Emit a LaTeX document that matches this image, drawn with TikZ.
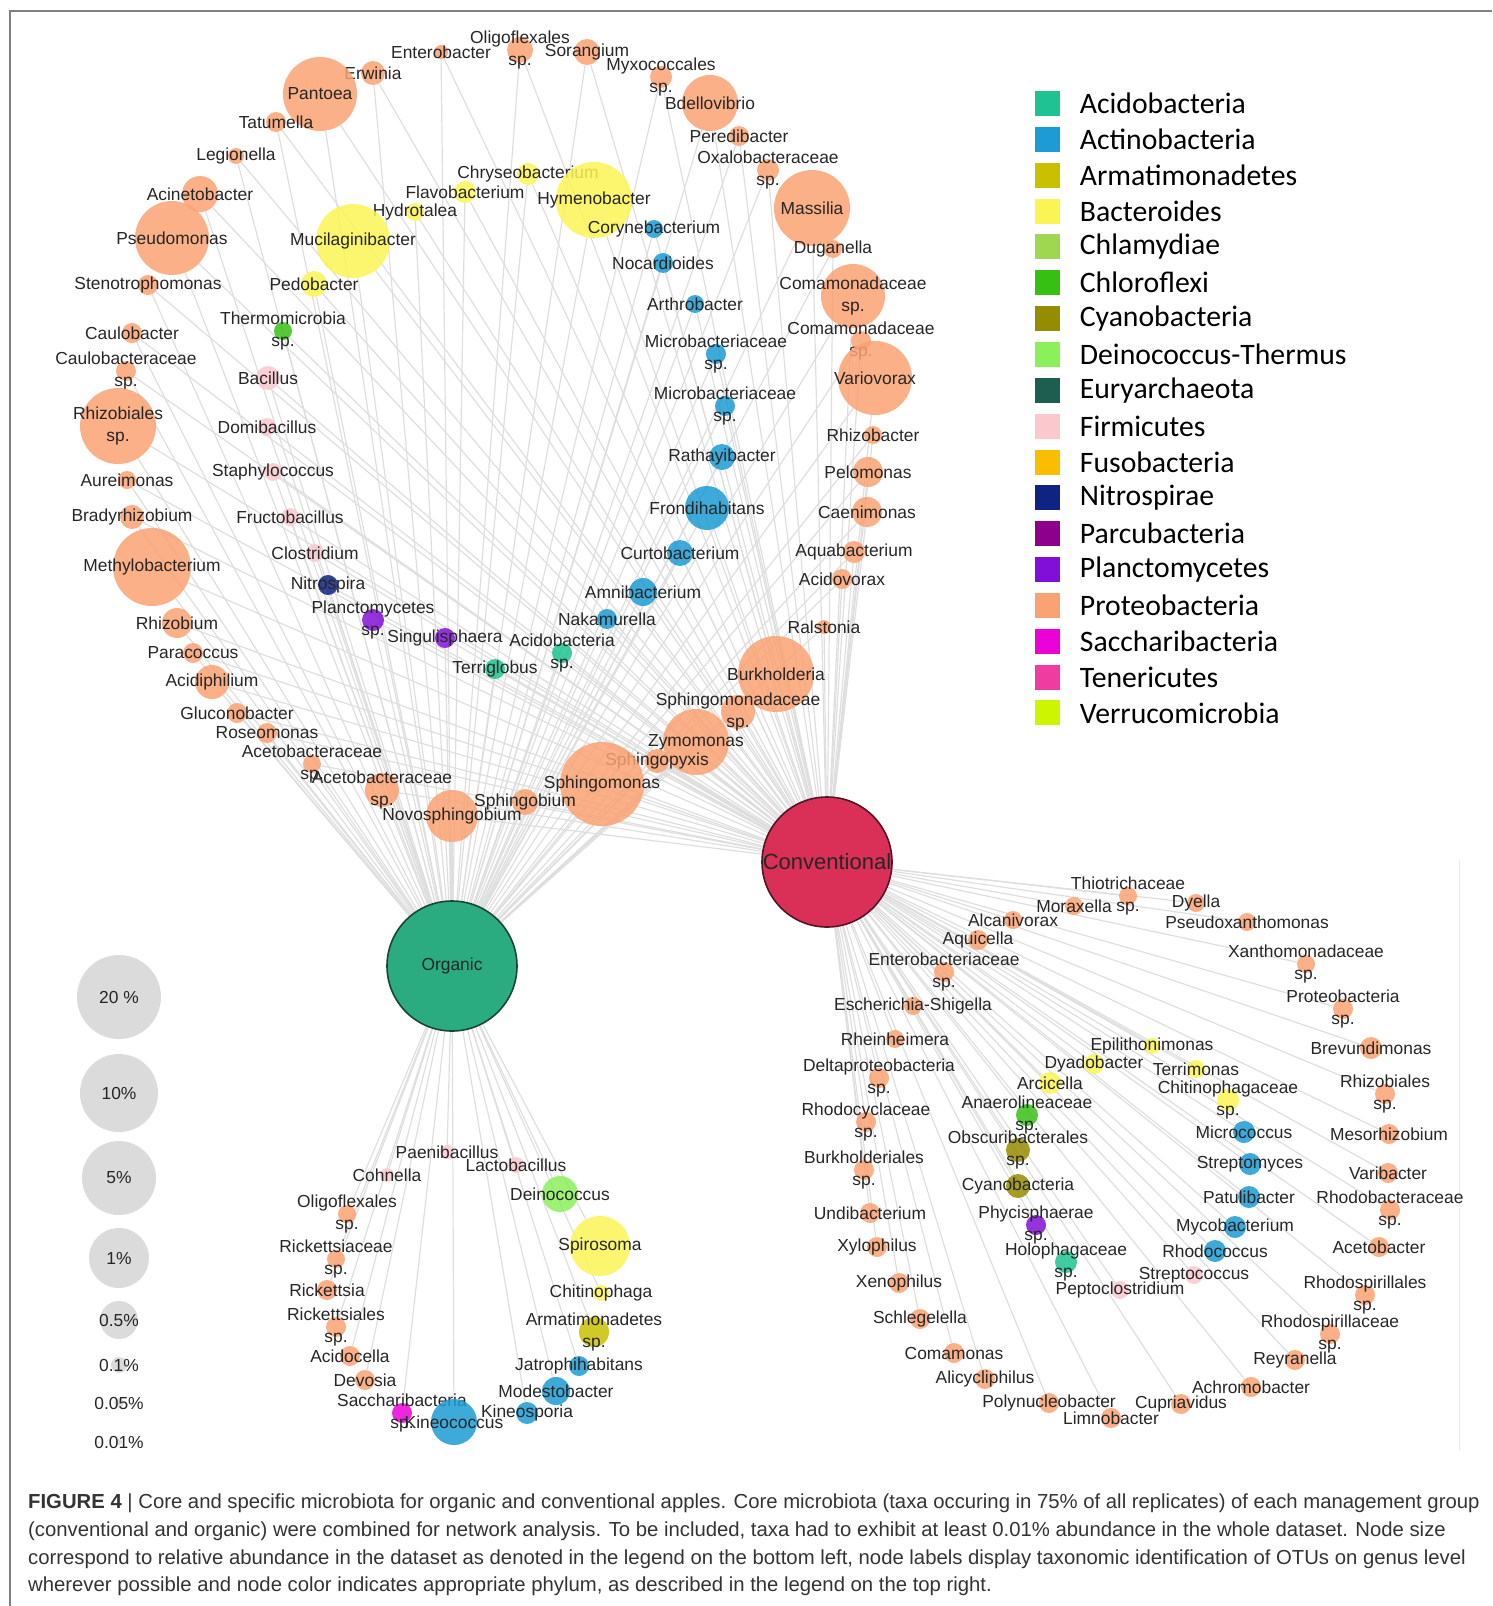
\documentclass[tikz,border=0pt]{standalone}
\usepackage{fontspec}
\setmainfont{Liberation Sans}
\newfontfamily\legfont{Carlito}
\usepackage{tikz}
\usetikzlibrary{positioning}
\definecolor{Acido}{RGB}{30,195,145}
\definecolor{Actino}{RGB}{28,155,212}
\definecolor{Armat}{RGB}{200,192,0}
\definecolor{Bacter}{RGB}{250,245,85}
\definecolor{Chlamy}{RGB}{160,215,80}
\definecolor{Chloro}{RGB}{55,192,20}
\definecolor{Cyano}{RGB}{150,140,0}
\definecolor{Deino}{RGB}{140,240,90}
\definecolor{Eury}{RGB}{28,95,80}
\definecolor{Firmi}{RGB}{250,200,205}
\definecolor{Fuso}{RGB}{250,190,0}
\definecolor{Nitro}{RGB}{15,35,130}
\definecolor{Parcu}{RGB}{140,0,140}
\definecolor{Plancto}{RGB}{130,15,215}
\definecolor{Proteo}{RGB}{250,162,115}
\definecolor{Sacch}{RGB}{235,0,215}
\definecolor{Teneri}{RGB}{240,60,160}
\definecolor{Verruco}{RGB}{205,245,0}
\definecolor{OrgGreen}{RGB}{42,172,128}
\definecolor{OrgEdge}{RGB}{25,70,50}
\definecolor{ConvRed}{RGB}{218,48,88}
\definecolor{ConvEdge}{RGB}{85,20,35}
\pgfdeclarelayer{background}
\pgfsetlayers{background,main}
\newcommand{\lblfont}{\fontsize{17.4}{21.5}\selectfont}

\begin{document}
\begin{tikzpicture}[
		x=1pt, y=-1pt,
		otu/.style={circle, inner sep=0pt, draw=none, fill opacity=0.85},
		every label/.style={font=\lblfont, text=black!85, align=center, inner sep=0pt, fill opacity=1, text opacity=1},
		prot/.style={otu, fill=Proteo, minimum size=2*#1},
		bact/.style={otu, fill=Bacter, minimum size=2*#1},
		actino/.style={otu, fill=Actino, minimum size=2*#1},
		acido/.style={otu, fill=Acido, minimum size=2*#1},
		chloro/.style={otu, fill=Chloro, minimum size=2*#1},
		firm/.style={otu, fill=Firmi, minimum size=2*#1},
		nitr/.style={otu, fill=Nitro, minimum size=2*#1},
		planc/.style={otu, fill=Plancto, minimum size=2*#1},
		armat/.style={otu, fill=Armat, minimum size=2*#1},
		deinoc/.style={otu, fill=Deino, minimum size=2*#1},
		cyano/.style={otu, fill=Cyano, minimum size=2*#1},
		sacch/.style={otu, fill=Sacch, minimum size=2*#1},
		hub/.style={circle, inner sep=0pt, minimum size=130, line width=1.6pt},
		link/.style={draw=black!13, line width=1.2pt},
		sizecirc/.style={circle, inner sep=0pt, fill=black!14, minimum size=2*#1},
		legsq/.style={rectangle, inner sep=0pt, minimum size=25},
		legtxt/.style={inner sep=0pt, font=\legfont\fontsize{29.7}{31}\selectfont},
		frame/.style={draw=black!50, line width=2.5pt},
		caption/.style={anchor=north west, align=left, inner sep=0pt, text=black!80, font=\fontsize{20.3}{27.6}\selectfont}
	]
	\useasboundingbox (0,0) rectangle (1492,1606);
	\draw[frame] (10,1606) -- (10,11) -- (1492,11);
	\draw[draw=black!8, line width=1pt] (1459,860) -- (1459,1450);

	% hubs
	\node[hub, fill=OrgGreen, draw=OrgEdge, label=center:Organic] (org) at (452,966) {};
	\node[hub, fill=ConvRed, draw=ConvEdge, label={[font=\fontsize{22}{24}\selectfont, text=black!85]center:Conventional}] (conv) at (827,862) {};

	% core taxa
	\node[prot=13, label={center:Oligoflexales\\sp.}] (oligo) at (520,50) {};
	\node[prot=7, label=center:Enterobacter] (entero) at (441,52) {};
	\node[prot=13, label=center:Sorangium] (soran) at (587,52) {};
	\node[prot=11, label={center:Myxococcales\\sp.}] (myxo) at (661,77) {};
	\node[prot=12, label=center:Erwinia] (erwinia) at (373,73) {};
	\node[prot=37, label=center:Pantoea] (pantoea) at (320,94) {};
	\node[prot=28, label=center:Bdellovibrio] (bdello) at (710,103) {};
	\node[prot=10, label=center:Tatumella] (tatum) at (276,122) {};
	\node[prot=10, label=center:Peredibacter] (pered) at (739,136) {};
	\node[prot=8, label=center:Legionella] (legio) at (236,156) {};
	\node[prot=11, label={center:Oxalobacteraceae\\sp.}] (oxalo) at (768,170) {};
	\node[bact=11, label=center:Chryseobacterium] (chryseo) at (528,174) {};
	\node[bact=11, label=center:Flavobacterium] (flavo) at (465,192) {};
	\node[bact=38, label=center:Hymenobacter] (hymeno) at (594,200) {};
	\node[prot=18, label=center:Acinetobacter] (acineto) at (200,194) {};
	\node[bact=9, label=center:Hydrotalea] (hydro) at (415,212) {};
	\node[prot=38, label=center:Massilia] (massi) at (812,208) {};
	\node[actino=9, label=center:Corynebacterium] (coryne) at (654,229) {};
	\node[prot=37, label=center:Pseudomonas] (pseudo) at (172,238) {};
	\node[bact=37, label=center:Mucilaginibacter] (muci) at (353,241) {};
	\node[prot=9, label=center:Duganella] (dugan) at (833,249) {};
	\node[actino=10, label=center:Nocardioides] (nocar) at (663,263) {};
	\node[prot=10, label=center:Stenotrophomonas] (steno) at (148,285) {};
	\node[bact=13, label=center:Pedobacter] (pedo) at (314,284) {};
	\node[prot=32, label={center:Comamonadaceae\\sp.}] (coma1) at (853,296) {};
	\node[actino=9, label=center:Arthrobacter] (arthro) at (695,304) {};
	\node[prot=10, label=center:Caulobacter] (caulo) at (132,333) {};
	\node[chloro=9, label={center:Thermomicrobia\\sp.}] (thermo) at (283,331) {};
	\node[prot=10, label={center:Comamonadaceae\\sp.}] (coma2) at (861,341) {};
	\node[prot=10, label={center:Caulobacteraceae\\sp.}] (caulosp) at (126,371) {};
	\node[actino=10, label={center:Microbacteriaceae\\sp.}] (micro1) at (716,354) {};
	\node[firm=12, label=center:Bacillus] (bacil) at (268,378) {};
	\node[prot=37, label=center:Variovorax] (vario) at (875,378) {};
	\node[prot=38, label={center:Rhizobiales\\sp.}] (rhizsp) at (118,426) {};
	\node[actino=10, label={center:Microbacteriaceae\\sp.}] (micro2) at (725,406) {};
	\node[firm=9, label=center:Domibacillus] (domi) at (267,427) {};
	\node[prot=9, label=center:Rhizobacter] (rhizobac) at (873,435) {};
	\node[prot=9, label=center:Aureimonas] (aurei) at (127,480) {};
	\node[firm=9, label=center:Staphylococcus] (staph) at (273,472) {};
	\node[actino=13, label=center:Rathayibacter] (ratha) at (722,457) {};
	\node[prot=15, label=center:Pelomonas] (pelo) at (868,472) {};
	\node[prot=12, label=center:Bradyrhizobium] (brady) at (132,517) {};
	\node[firm=9, label=center:Fructobacillus] (fructo) at (290,517) {};
	\node[actino=22, label=center:Frondihabitans] (frondi) at (707,508) {};
	\node[prot=15, label=center:Caenimonas] (caeni) at (867,512) {};
	\node[prot=39, label=center:Methylobacterium] (methylo) at (152,567) {};
	\node[firm=9, label=center:Clostridium] (clostr) at (315,553) {};
	\node[actino=13, label=center:Curtobacterium] (curto) at (680,553) {};
	\node[prot=11, label=center:Aquabacterium] (aquab) at (854,552) {};
	\node[nitr=10, label=center:Nitrospira] (nitro) at (328,585) {};
	\node[actino=14, label=center:Amnibacterium] (amni) at (643,592) {};
	\node[prot=10, label=center:Acidovorax] (acidov) at (842,579) {};
	\node[planc=11, label={center:Planctomycetes\\sp.}] (plancto) at (373,620) {};
	\node[prot=15, label=center:Rhizobium] (rhizob) at (177,623) {};
	\node[actino=10, label=center:Nakamurella] (naka) at (607,619) {};
	\node[prot=7, label=center:Ralstonia] (ralst) at (824,627) {};
	\node[prot=10, label=center:Paracoccus] (parac) at (193,653) {};
	\node[planc=10, label=center:Singulisphaera] (singu) at (445,638) {};
	\node[acido=10, label={center:Acidobacteria\\sp.}] (acidob) at (562,653) {};
	\node[acido=10, label=center:Terriglobus] (terri) at (495,669) {};
	\node[prot=17, label=center:Acidiphilium] (acidi) at (212,682) {};
	\node[prot=38, label=center:Burkholderia] (burk) at (776,674) {};
	\node[prot=17, label={center:Sphingomonadaceae\\sp.}] (sphingsp) at (738,712) {};
	\node[prot=10, label=center:Gluconobacter] (glucon) at (237,713) {};
	\node[prot=10, label=center:Roseomonas] (roseo) at (267,733) {};
	\node[prot=33, label=center:Zymomonas] (zymo) at (696,742) {};
	\node[prot=9, label={center:Acetobacteraceae\\sp.}] (aceto1) at (312,764) {};
	\node[prot=17, label={center:Acetobacteraceae\\sp.}] (aceto2) at (382,790) {};
	\node[prot=12, label=center:Sphingopyxis] (sphingop) at (657,761) {};
	\node[prot=42, label=center:Sphingomonas] (sphingom) at (602,784) {};
	\node[prot=13, label=center:Sphingobium] (sphingob) at (525,802) {};
	\node[prot=26, label=center:Novosphingobium] (novo) at (452,816) {};

	% organic only
	\node[firm=7, label=center:Paenibacillus] (paeni) at (447,1152) {};
	\node[firm=8, label=center:Lactobacillus] (lacto) at (516,1165) {};
	\node[firm=7, label=center:Cohnella] (cohn) at (387,1175) {};
	\node[deinoc=18, label=center:Deinococcus] (deino) at (560,1194) {};
	\node[prot=9, label={center:Oligoflexales\\sp.}] (oligo2) at (347,1214) {};
	\node[bact=30, label=center:Spirosoma] (spiro) at (600,1246) {};
	\node[prot=9, label={center:Rickettsiaceae\\sp.}] (ricksp) at (336,1259) {};
	\node[bact=8, label=center:Chitinophaga] (chitin) at (601,1293) {};
	\node[prot=10, label=center:Rickettsia] (rick) at (327,1290) {};
	\node[prot=10, label={center:Rickettsiales\\sp.}] (rickales) at (336,1327) {};
	\node[armat=15, label={center:Armatimonadetes\\sp.}] (armat) at (594,1332) {};
	\node[prot=10, label=center:Acidocella] (acidoc) at (350,1356) {};
	\node[actino=10, label=center:Jatrophihabitans] (jatro) at (579,1366) {};
	\node[prot=10, label=center:Devosia] (devo) at (365,1380) {};
	\node[actino=14, label=center:Modestobacter] (modest) at (556,1391) {};
	\node[sacch=10, label={center:Saccharibacteria\\sp.}] (sacch) at (402,1413) {};
	\node[actino=23, label=center:Kineococcus] (kineoc) at (454,1422) {};
	\node[actino=11, label=center:Kineosporia] (kineos) at (527,1413) {};

	% conventional only
	\node[prot=9, label={center:Thiotrichaceae\\sp.}] (thio) at (1128,896) {};
	\node[prot=9, label=center:Moraxella] (morax) at (1074,906) {};
	\node[prot=9, label=center:Dyella] (dyella) at (1196,903) {};
	\node[prot=9, label=center:Pseudoxanthomonas] (pseudox) at (1247,922) {};
	\node[prot=9, label=center:Alcanivorax] (alcani) at (1013,920) {};
	\node[prot=10, label=center:Aquicella] (aquic) at (978,940) {};
	\node[prot=10, label={center:Enterobacteriaceae\\sp.}] (enterosp) at (944,972) {};
	\node[prot=9, label={center:Xanthomonadaceae\\sp.}] (xantho) at (1306,964) {};
	\node[prot=9, label=center:Escherichia-Shigella] (esch) at (913,1006) {};
	\node[prot=10, label={center:Proteobacteria\\sp.}] (proteosp) at (1343,1009) {};
	\node[prot=9, label=center:Rheinheimera] (rhein) at (895,1039) {};
	\node[bact=8, label=center:Epilithonimonas] (epili) at (1152,1046) {};
	\node[prot=11, label=center:Brevundimonas] (brevun) at (1371,1048) {};
	\node[prot=10, label={center:Deltaproteobacteria\\sp.}] (delta) at (879,1078) {};
	\node[bact=10, label=center:Dyadobacter] (dyado) at (1094,1064) {};
	\node[bact=9, label=center:Terrimonas] (terrim) at (1196,1069) {};
	\node[bact=11, label=center:Arcicella] (arci) at (1050,1083) {};
	\node[bact=11, label={center:Chitinophagaceae\\sp.}] (chitsp) at (1228,1100) {};
	\node[prot=10, label={center:Rhizobiales\\sp.}] (rhizsp2) at (1385,1094) {};
	\node[chloro=11, label={center:Anaerolineaceae\\sp.}] (anaero) at (1027,1115) {};
	\node[prot=10, label={center:Rhodocyclaceae\\sp.}] (rhodocy) at (866,1122) {};
	\node[actino=11, label=center:Micrococcus] (microc) at (1244,1132) {};
	\node[prot=10, label=center:Mesorhizobium] (mesorh) at (1389,1134) {};
	\node[cyano=12, label={center:Obscuribacterales\\sp.}] (obscur) at (1018,1150) {};
	\node[prot=10, label={center:Burkholderiales\\sp.}] (burksp) at (864,1170) {};
	\node[actino=11, label=center:Streptomyces] (strepm) at (1250,1164) {};
	\node[prot=10, label=center:Varibacter] (varib) at (1388,1173) {};
	\node[cyano=12, label=center:Cyanobacteria] (cyanob) at (1018,1186) {};
	\node[actino=11, label=center:Patulibacter] (patul) at (1249,1197) {};
	\node[prot=10, label={center:Rhodobacteraceae\\sp.}] (rhodobsp) at (1390,1210) {};
	\node[prot=10, label=center:Undibacterium] (undib) at (870,1213) {};
	\node[planc=10, label={center:Phycisphaerae\\sp.}] (phycis) at (1036,1225) {};
	\node[actino=11, label=center:Mycobacterium] (mycob) at (1235,1227) {};
	\node[prot=10, label=center:Xylophilus] (xyloph) at (877,1247) {};
	\node[prot=10, label=center:Acetobacter] (acetob) at (1379,1247) {};
	\node[actino=11, label=center:Rhodococcus] (rhodoc) at (1215,1251) {};
	\node[acido=11, label={center:Holophagaceae\\sp.}] (holoph) at (1066,1262) {};
	\node[firm=9, label=center:Streptococcus] (streptoc) at (1194,1275) {};
	\node[firm=9, label=center:Peptoclostridium] (pepto) at (1120,1290) {};
	\node[prot=10, label=center:Xenophilus] (xenoph) at (899,1283) {};
	\node[prot=10, label={center:Rhodospirillales\\sp.}] (rhodospsp) at (1365,1295) {};
	\node[prot=10, label=center:Schlegelella] (schleg) at (920,1319) {};
	\node[prot=10, label={center:Rhodospirillaceae\\sp.}] (rhodosp2) at (1330,1334) {};
	\node[prot=10, label=center:Comamonas] (comam) at (954,1353) {};
	\node[prot=10, label=center:Reyranella] (reyra) at (1295,1360) {};
	\node[prot=10, label=center:Alicycliphilus] (alicy) at (985,1379) {};
	\node[prot=10, label=center:Achromobacter] (achro) at (1251,1387) {};
	\node[prot=10, label=center:Polynucleobacter] (polyn) at (1049,1403) {};
	\node[prot=10, label=center:Cupriavidus] (cupri) at (1181,1404) {};
	\node[prot=10, label=center:Limnobacter] (limno) at (1111,1418) {};

	% connections
	\begin{pgfonlayer}{background}
		\foreach \n in {oligo, entero, soran, myxo, erwinia, pantoea, bdello, tatum, pered, legio, oxalo, chryseo, flavo, hymeno, acineto, hydro, massi, coryne, pseudo, muci, dugan, nocar, steno, pedo, coma1, arthro, caulo, thermo, coma2, caulosp, micro1, bacil, vario, rhizsp, micro2, domi, rhizobac, aurei, staph, ratha, pelo, brady, fructo, frondi, caeni, methylo, clostr, curto, aquab, nitro, amni, acidov, plancto, rhizob, naka, ralst, parac, singu, acidob, terri, acidi, burk, sphingsp, glucon, roseo, zymo, aceto1, aceto2, sphingop, sphingom, sphingob, novo}
			{\draw[link] (org) -- (\n); \draw[link] (conv) -- (\n);}
		\foreach \n in {paeni, lacto, cohn, deino, oligo2, spiro, ricksp, chitin, rick, rickales, armat, acidoc, jatro, devo, modest, sacch, kineoc, kineos}
			{\draw[link] (org) -- (\n);}
		\foreach \n in {thio, morax, dyella, pseudox, alcani, aquic, enterosp, xantho, esch, proteosp, rhein, epili, brevun, delta, dyado, terrim, arci, chitsp, rhizsp2, anaero, rhodocy, microc, mesorh, obscur, burksp, strepm, varib, cyanob, patul, rhodobsp, undib, phycis, mycob, xyloph, acetob, rhodoc, holoph, streptoc, pepto, xenoph, rhodospsp, schleg, rhodosp2, comam, reyra, alicy, achro, polyn, cupri, limno}
			{\draw[link] (conv) -- (\n);}
	\end{pgfonlayer}

	% size legend
	\node[sizecirc=42, label=center:20 \%] (s20) at (119,997) {};
	\node[sizecirc=39, label=center:10\%] (s10) at (119,1093) {};
	\node[sizecirc=37, label=center:5\%] (s5) at (119,1178) {};
	\node[sizecirc=30, label=center:1\%] (s1) at (119,1258) {};
	\node[sizecirc=19, label=center:0.5\%] (s05) at (119,1320) {};
	\node[sizecirc=8, label=center:0.1\%] (s01) at (119,1365) {};
	\node[sizecirc=5, label=center:0.05\%] (s005) at (119,1403) {};
	\node[sizecirc=3, label=center:0.01\%] (s001) at (119,1442) {};

	% phylum legend
	\foreach \nm/\col [count=\i from 0] in {Acidobacteria/Acido, Actinobacteria/Actino, Armatimonadetes/Armat, Bacteroides/Bacter, Chlamydiae/Chlamy, Chloroflexi/Chloro, Cyanobacteria/Cyano, Deinococcus-Thermus/Deino, Euryarchaeota/Eury, Firmicutes/Firmi, Fusobacteria/Fuso, Nitrospirae/Nitro, Parcubacteria/Parcu, Planctomycetes/Plancto, Proteobacteria/Proteo, Saccharibacteria/Sacch, Tenericutes/Teneri, Verrucomicrobia/Verruco}
	{
		\node[legsq, fill=\col] (sq\i) at (1047,103.5+35.85*\i) {};
		\node[legtxt, right=20pt of sq\i] (lt\i) {\nm};
	}

	\node[caption] (cap) at (28,1494) {\textbf{FIGURE 4} | Core and specific microbiota for organic and conventional apples. Core microbiota (taxa occuring in 75\% of all replicates) of each management group\\
		(conventional and organic) were combined for network analysis. To be included, taxa had to exhibit at least 0.01\% abundance in the whole dataset. Node size\\
		correspond to relative abundance in the dataset as denoted in the legend on the bottom left, node labels display taxonomic identification of OTUs on genus level\\
		wherever possible and node color indicates appropriate phylum, as described in the legend on the top right.};
\end{tikzpicture}
\end{document}
